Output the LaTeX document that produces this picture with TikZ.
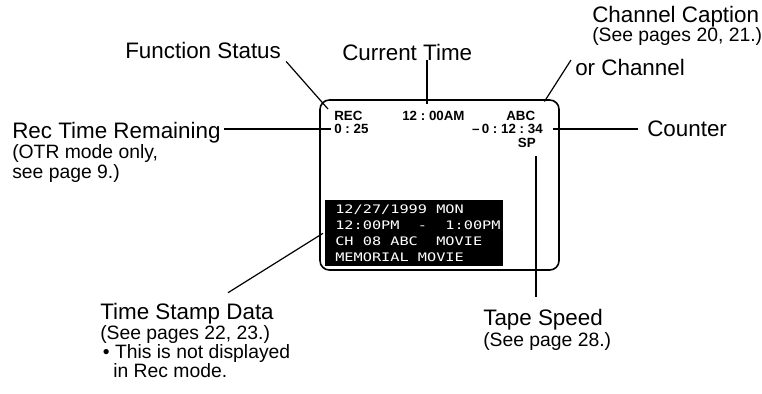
\documentclass[tikz,border=0pt]{standalone}
\usepackage{fontspec}
\setmainfont{Liberation Sans}
\newfontfamily\osdfont[FakeStretch=1.3]{DejaVu Sans Mono}
\usetikzlibrary{positioning, calc}

\newcommand{\calloutmain}[1]{{\fontsize{16.8}{14.5}\selectfont #1}}
\newcommand{\osdgap}{\hphantom{0}}
\newcommand{\osdcolon}{\hspace{2.8pt}:\hspace{2.8pt}}

\begin{document}
\begin{tikzpicture}[x=0.75pt, y=-0.75pt,
    callout/.style={anchor=base west, inner sep=0pt, align=left,
                    font=\fontsize{14.5}{14.5}\selectfont},
    osdlabel/.style={inner sep=0pt, font=\fontsize{10}{11}\selectfont\bfseries},
    screenbox/.style={draw, line width=1.2pt, rounded corners=7pt,
                      minimum width=179.25pt, minimum height=127.5pt},
    stampbox/.style={fill=black, text=white, anchor=north west, align=left,
                     minimum width=133.5pt, minimum height=49.5pt, inner xsep=7.5pt,
                     inner ysep=0pt, text width=118.5pt, font=\fontsize{8.8}{12}\osdfont},
    leader/.style={line width=0.9pt}
]
    \useasboundingbox (0,0) rectangle (762,393);

    % ========== Screen ==========
    \node[screenbox] (screen) at (439.5,185) {};
    \node[stampbox] (stamp) at (325,200) {%
        \mbox{12/27/1999\osdgap MON}\\
        \mbox{12:00PM\osdgap\osdgap-\osdgap\osdgap1:00PM}\\
        \mbox{CH\osdgap 08\osdgap ABC\osdgap\osdgap MOVIE}\\
        \mbox{MEMORIAL\osdgap MOVIE}};

    % ========== On-screen items ==========
    \node[osdlabel, anchor=west] (rec) at (334,116) {REC};
    \node[osdlabel, anchor=west] (rem) at (334,129) {0\osdcolon25};
    \node[osdlabel, anchor=west] (clk) at (402,116) {12\osdcolon00AM};
    \node[osdlabel, anchor=west] (abc) at (506,116) {ABC};
    \node[osdlabel, anchor=east] (ctr) at (543,129) {--\,0\osdcolon12\osdcolon34};
    \node[osdlabel, anchor=east] (sp)  at (536,143) {SP};

    % ========== Callouts ==========
    \node[callout] (fs)   at (125,58)    {\calloutmain{Function Status}};
    \node[callout] (ct)   at (342,60)    {\calloutmain{Current Time}};
    \node[callout, font=\fontsize{14.5}{14.2}\selectfont]
                   (chan) at (592,41.9)  {\calloutmain{Channel Caption}\\
                                          (See pages 20, 21.)};
    \node[callout] (chor) at (575,75)    {\calloutmain{or Channel}};
    \node[callout, font=\fontsize{14.5}{15.3}\selectfont]
                   (rtr)  at (12,178.9)  {\calloutmain{Rec Time Remaining}\\
                                          (OTR mode only,\\
                                          see page 9.)};
    \node[callout] (cnt)  at (647,136)   {\calloutmain{Counter}};
    \node[callout, font=\fontsize{14.5}{13}\selectfont]
                   (tsd)  at (100,377.9) {\calloutmain{Time Stamp Data}\\
                                          (See pages 22, 23.)\\
                                          \hspace*{2pt}\textbullet\ This is not displayed\\
                                          \hspace*{9.75pt}in Rec mode.};
    \node[callout, font=\fontsize{14.5}{15.7}\selectfont]
                   (tape) at (483,346.9) {\calloutmain{Tape Speed}\\
                                          (See page 28.)};

    % --- Leaders ---
    \coordinate (ctend) at (427,104);
    \coordinate (chend) at (571,60);
    \draw[leader] ([shift={(5,3)}]fs.south east) -- ([shift={(-6,-2)}]rec.north west);
    \draw[leader] (ct.south -| ctend) -- (ctend);
    \draw[leader] (chend) -- ([shift={(9,-9.5)}]abc.north east);
    \draw[leader] ([shift={(3,0)}]rtr.east |- rem.west) -- ([shift={(-3,0)}]rem.west);
    \draw[leader] ([shift={(10,0)}]ctr.east) -- ([shift={(-9,0)}]cnt.west |- ctr.east);
    \draw[leader] ([shift={(128,-10)}]tsd.north west) -- ([shift={(-2,0)}]stamp.west);
    \draw[leader] ([shift={(0,8)}]sp.south east) -- ([shift={(0,-12)}]sp.south east |- tape.north);
\end{tikzpicture}
\end{document}
